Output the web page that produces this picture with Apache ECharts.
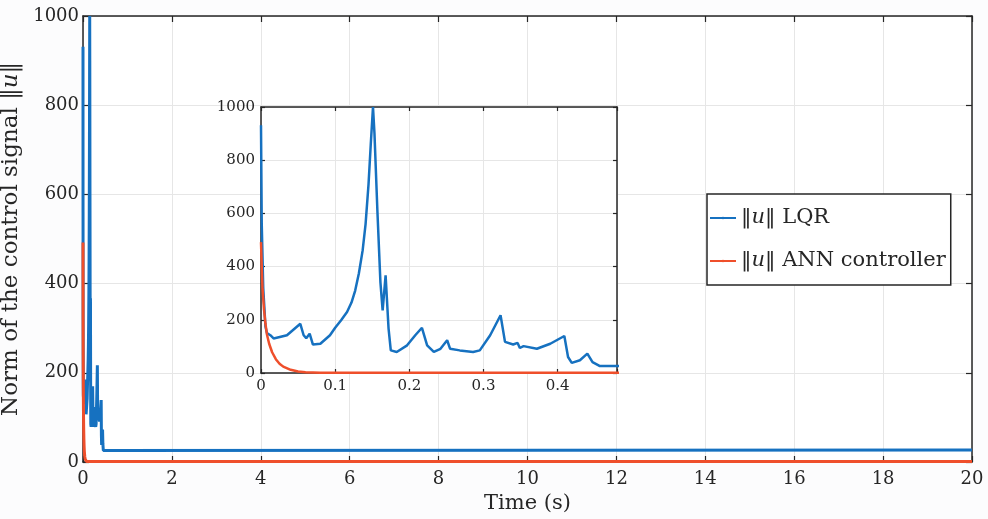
<!DOCTYPE html>
<html>
<head>
<meta charset="utf-8">
<script src="https://cdn.jsdelivr.net/npm/echarts@6/dist/echarts.min.js"></script>
<style>html,body{margin:0;padding:0;background:#fcfcfd;}#c{width:988px;height:519px;}</style>
</head>
<body>
<div id="c"></div>
<script>
const tLqr = [0, 0.001, 0.003, 0.006, 0.008, 0.0126, 0.017, 0.035, 0.053, 0.0575, 0.061, 0.0656, 0.07, 0.08, 0.093, 0.1, 0.108, 0.116, 0.122, 0.127, 0.132, 0.137, 0.141, 0.145, 0.148, 0.151, 0.153, 0.157, 0.161, 0.164, 0.168, 0.172, 0.175, 0.183, 0.197, 0.208, 0.217, 0.224, 0.233, 0.242, 0.251, 0.255, 0.268, 0.286, 0.295, 0.309, 0.323, 0.329, 0.34, 0.346, 0.349, 0.354, 0.372, 0.39, 0.409, 0.414, 0.419, 0.43, 0.44, 0.447, 0.457, 0.477, 0.5, 20];
const lqr  = [931, 560, 320, 175, 150, 142, 130, 142, 185, 142, 131, 148, 107, 110, 142, 170, 198, 229, 265, 310, 375, 460, 560, 710, 860, 1000, 900, 605, 342, 235, 367, 167, 85, 79, 104, 142, 170, 104, 79, 91, 123, 91, 85, 79, 85, 142, 217, 117, 107, 113, 94, 101, 91, 110, 139, 60, 38, 48, 73, 41, 26, 26, 27, 27];
const tAnn = [0, 0.001, 0.002, 0.004, 0.006, 0.008, 0.011, 0.015, 0.02, 0.025, 0.03, 0.04, 0.05, 0.06, 0.08, 0.5, 20];
const ann  = [492, 400, 320, 240, 185, 145, 110, 78, 52, 35, 24, 12, 6, 3, 1, 1, 1];
const mainXTicks = [0, 20, 2];
const mainYTicks = [0, 1000, 200];
const insetXTicks = [0, 0.48, 0.1];
const insetYTicks = [0, 1000, 200];
const seriesNames = ['LQR', 'ANN'];

const FONT = 'DejaVu Serif';
const BLUE = '#1671c0';
const RED = '#ef4f2b';
const DARK = '#262626';
const GRIDC = '#e6e6e6';

const pairs = (t, v) => t.map((x, i) => [x, v[i]]);

function fmt(rng) {
  return v => (Math.abs(v - rng[1]) < 1e-9 && Math.abs(rng[1] / rng[2] - Math.round(rng[1] / rng[2])) > 1e-6) ? '' : String(+v.toFixed(2));
}
function xAx(gi, pos, rng, fs, show, tl) {
  return {
    type: 'value', gridIndex: gi, position: pos, min: rng[0], max: rng[1], interval: rng[2],
    z: gi === 1 ? 4 : 1,
    axisLine: {show: true, onZero: false, lineStyle: {color: DARK, width: 1.5}},
    axisTick: {show: true, inside: true, length: tl, lineStyle: {color: DARK, width: 1.2}},
    splitLine: {show: show, lineStyle: {color: GRIDC, width: 1}},
    axisLabel: {show: show, fontFamily: FONT, fontSize: fs, color: DARK, margin: gi === 1 ? 6 : 8, formatter: fmt(rng)}
  };
}
function yAx(gi, pos, rng, fs, show, tl) {
  return {
    type: 'value', gridIndex: gi, position: pos, min: rng[0], max: rng[1], interval: rng[2],
    z: gi === 1 ? 4 : 1,
    axisLine: {show: true, onZero: false, lineStyle: {color: DARK, width: 1.5}},
    axisTick: {show: true, inside: true, length: tl, lineStyle: {color: DARK, width: 1.2}},
    splitLine: {show: show, lineStyle: {color: GRIDC, width: 1}},
    axisLabel: {show: show, fontFamily: FONT, fontSize: fs, color: DARK, margin: gi === 1 ? 6 : 4, formatter: fmt(rng)}
  };
}

const xAxes = [
  xAx(0, 'bottom', mainXTicks, 18, true, 6),
  xAx(0, 'top', mainXTicks, 18, false, 6),
  xAx(1, 'bottom', insetXTicks, 15, true, 4),
  xAx(1, 'top', insetXTicks, 15, false, 4)
];
xAxes[0].name = 'Time (s)';
xAxes[0].nameLocation = 'middle';
xAxes[0].nameGap = 29;
xAxes[0].nameTextStyle = {fontFamily: FONT, fontSize: 21, color: DARK};

const yAxes = [
  yAx(0, 'left', mainYTicks, 18, true, 6),
  yAx(0, 'right', mainYTicks, 18, false, 6),
  yAx(1, 'left', insetYTicks, 15, true, 4),
  yAx(1, 'right', insetYTicks, 15, false, 4)
];
yAxes[0].name = '{n|Norm of the control signal ‖}{i|u}{n|‖}';
yAxes[0].nameLocation = 'middle';
yAxes[0].nameGap = 52;
yAxes[0].nameTextStyle = {fontFamily: FONT, fontSize: 23, color: DARK,
  rich: {n: {fontFamily: FONT, fontSize: 23, color: DARK}, i: {fontFamily: FONT, fontSize: 23, fontStyle: 'italic', color: DARK}}};

const chart = echarts.init(document.getElementById('c'));
chart.setOption({
  backgroundColor: '#fcfcfd',
  animation: false,
  grid: [
    {left: 83, top: 16, right: 16, bottom: 57, show: true, backgroundColor: '#ffffff', borderWidth: 0, z: 0, containLabel: false, outerBoundsMode: 'none'},
    {left: 261, top: 107, right: 371, bottom: 146, show: true, backgroundColor: '#ffffff', borderWidth: 0, z: 3, containLabel: false, outerBoundsMode: 'none'}
  ],
  legend: {
    data: seriesNames,
    orient: 'vertical',
    left: 707, top: 194,
    padding: [11, 5, 11, 2],
    itemGap: 17,
    itemWidth: 26, itemHeight: 3,
    borderColor: DARK, borderWidth: 1.5,
    backgroundColor: '#ffffff',
    z: 10,
    formatter: name => name === 'LQR' ? '{n|‖}{i|u}{n|‖ LQR}' : '{n|‖}{i|u}{n|‖ ANN controller}',
    textStyle: {fontFamily: FONT, fontSize: 21, color: DARK, lineHeight: 26,
      rich: {n: {fontFamily: FONT, fontSize: 21, color: DARK, lineHeight: 26},
             i: {fontFamily: FONT, fontSize: 21, fontStyle: 'italic', color: DARK, lineHeight: 26}}}
  },
  xAxis: xAxes,
  yAxis: yAxes,
  series: [
    {name: 'LQR', type: 'line', xAxisIndex: 0, yAxisIndex: 0, data: pairs(tLqr, lqr), symbol: 'none', z: 2,
      lineStyle: {color: BLUE, width: 3}, itemStyle: {color: BLUE}},
    {name: 'ANN', type: 'line', xAxisIndex: 0, yAxisIndex: 0, data: pairs(tAnn, ann), symbol: 'none', z: 2,
      lineStyle: {color: RED, width: 3}, itemStyle: {color: RED}},
    {name: 'LQR', type: 'line', xAxisIndex: 2, yAxisIndex: 2, data: pairs(tLqr, lqr), symbol: 'none', z: 5, clip: true,
      lineStyle: {color: BLUE, width: 2.5}, itemStyle: {color: BLUE}},
    {name: 'ANN', type: 'line', xAxisIndex: 2, yAxisIndex: 2, data: pairs(tAnn, ann), symbol: 'none', z: 5, clip: true,
      lineStyle: {color: RED, width: 2.5}, itemStyle: {color: RED}}
  ]
});
</script>
</body>
</html>
